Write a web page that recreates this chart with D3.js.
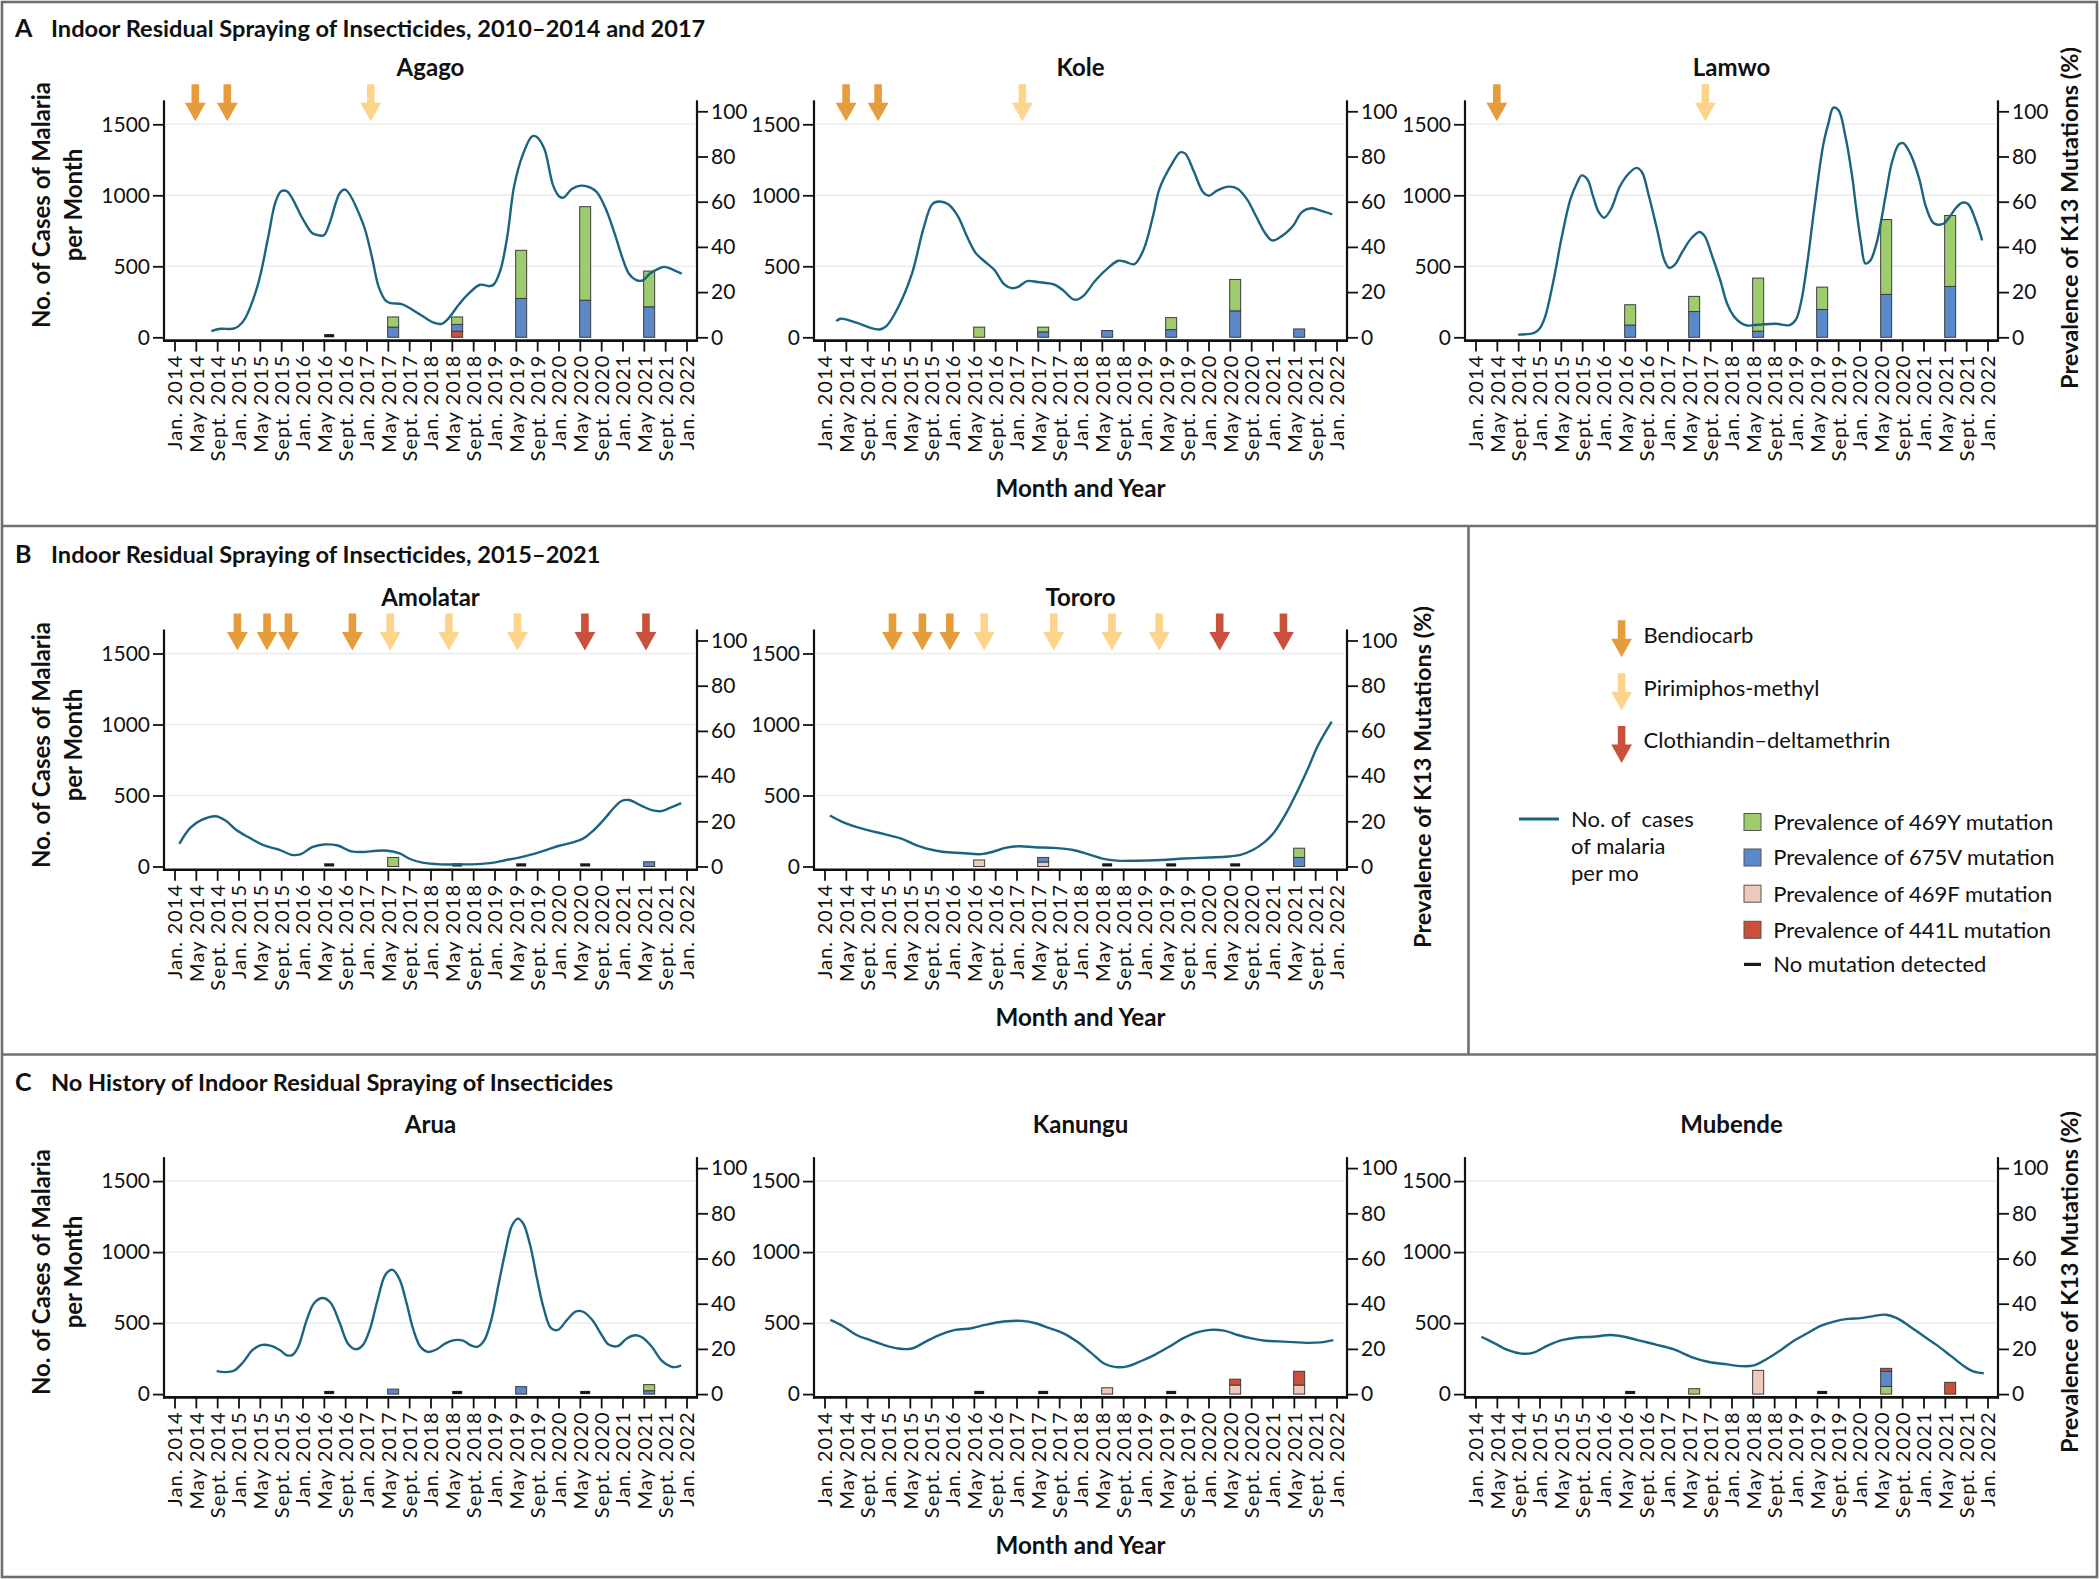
<!DOCTYPE html>
<html><head><meta charset="utf-8">
<script src="https://cdn.jsdelivr.net/npm/d3@7"></script>
<style>
body{margin:0;background:#fff}
svg{display:block}
text{font-family:Lato,"Open Sans",sans-serif;fill:#111}
</style>
</head><body>
<svg id="c" width="2100" height="1579"></svg>
<script>
// ---------- tick labels ----------
const tickMonths = [0,4,8,12,16,20,24,28,32,36,40,44,48,52,56,60,64,68,72,76,80,84,88,92,96];
const tickLabels = ["Jan. 2014","May 2014","Sept. 2014","Jan. 2015","May 2015","Sept. 2015","Jan. 2016","May 2016","Sept. 2016",
  "Jan. 2017","May 2017","Sept. 2017","Jan. 2018","May 2018","Sept. 2018","Jan. 2019","May 2019","Sept. 2019",
  "Jan. 2020","May 2020","Sept. 2020","Jan. 2021","May 2021","Sept. 2021","Jan. 2022"];
const caseTicks = [0,500,1000,1500];
const prevTicks = [0,20,40,60,80,100];

// ---------- monthly malaria cases: [months since Jan. 2014, cases] ----------
const agagoCases = [[6.9,43],[8.6,60],[11.2,62],[12.9,114],[15.5,353],[17.6,711],[18.9,949],[20,1028],[21.1,1028],[24.1,830],[25.8,735],[27.1,718],[28,718],[29.1,806],[31,1016],[32,1040],[35.3,806],[37,568],[38.3,353],[39.6,258],[40.5,241],[42.6,234],[43.9,210],[46.5,150],[48.6,103],[50.1,95],[51.2,126],[53.4,234],[55.1,305],[57.3,370],[59,360],[59.8,370],[61.1,472],[62.4,711],[63.7,1068],[65.4,1295],[67,1414],[67.8,1414],[69.3,1331],[71,1068],[72.2,990],[73,985],[74.5,1045],[76.2,1068],[77.9,1056],[79.2,1021],[80.9,902],[82.7,711],[83.9,568],[85.2,448],[86.5,405],[87.8,400],[89.1,448],[90.8,484],[91.9,496],[93.4,477],[95.1,448]];
const koleCases = [[2.2,114],[3,131],[6,103],[8.2,72],[10.3,55],[11.6,79],[13.8,210],[16.4,448],[18.5,758],[20.2,937],[21.5,956],[23.2,937],[25,854],[26.7,711],[28.4,591],[30.1,532],[31.9,472],[33.6,377],[35.1,346],[36.2,353],[38,396],[40,389],[43,372],[44.8,329],[46.5,270],[47.4,265],[48.6,293],[50.8,400],[53.4,496],[55.1,539],[56.4,532],[58.1,515],[59.8,615],[61.6,854],[62.8,1045],[65,1212],[66.7,1302],[67.6,1295],[69.3,1164],[71,1021],[72.1,997],[73.6,1033],[75.8,1061],[77.5,1045],[79.2,973],[80.9,854],[82.6,735],[83.9,682],[85.2,699],[87.8,782],[89.5,882],[91.3,909],[92.6,897],[95.2,866]];
const lamwoCases = [[8,19],[11,31],[12,60],[13,138],[14.5,377],[16.2,711],[17.8,973],[19.1,1092],[19.9,1140],[21,1111],[22,997],[23.1,882],[24.1,842],[25.4,902],[27,1057],[28.7,1152],[30.2,1193],[31.2,1164],[32.5,997],[34.2,735],[35.4,544],[36.3,489],[37.3,508],[38.8,603],[40.5,699],[42,742],[43,711],[44.2,591],[45.9,401],[47.2,234],[48.4,150],[49.7,103],[50.9,83],[52.2,86],[53.9,91],[56.4,95],[58.9,86],[60.1,126],[61.1,258],[62.2,520],[63.5,902],[65.2,1355],[66.2,1510],[67.1,1617],[68.1,1598],[69.3,1426],[70.6,1140],[71.4,902],[72.3,663],[73.1,520],[74,539],[75.2,663],[76.9,997],[78.1,1235],[79.4,1360],[80.2,1367],[81.5,1295],[83.2,1116],[84.4,925],[85.7,811],[86.5,794],[87.8,801],[89,854],[90.3,921],[91.4,949],[92.4,937],[93.6,842],[95,682]];
const amolatarCases = [[0.9,160],[3,274],[5.2,330],[7.7,354],[9.5,325],[11.6,257],[13.8,208],[16.8,148],[19.8,116],[21.95,82],[23.7,87],[25.8,136],[28,155],[30.6,148],[33.1,107],[35.3,102],[37.9,111],[40,111],[42.2,92],[44.3,51],[46.5,27],[49.9,15],[53.4,15],[56.8,17],[59.8,27],[62,44],[64.6,63],[67.2,87],[69.7,116],[72.3,148],[74.9,172],[76.6,196],[78.3,245],[80.5,330],[82.7,426],[83.9,463],[85.2,468],[87.4,431],[89.5,397],[91.3,390],[93,414],[95,446]];
const tororoCases = [[1,359],[3.9,305],[7.5,262],[11.2,228],[14.4,196],[16.6,160],[19.4,124],[22.1,104],[25.7,95],[29.4,87],[31.6,104],[33.9,131],[36.6,143],[39.4,136],[43,131],[46.6,116],[49.4,87],[52.1,56],[54.8,41],[58.5,41],[63,46],[67.5,56],[72.1,63],[75.7,70],[78,82],[80.3,116],[82.5,172],[84.4,245],[86.6,378],[88.9,548],[90.7,693],[92.5,850],[95.1,1020]];
const aruaCases = [[7.9,162],[9.5,155],[11.2,166],[12.9,226],[14.6,309],[16.2,345],[18.1,340],[19.8,309],[21.1,273],[22.2,278],[23.2,333],[24.8,523],[26.2,642],[27.8,677],[29.3,642],[31,499],[32.5,357],[34,316],[35.3,345],[36.6,452],[38.1,666],[39.6,844],[40.9,875],[42.2,808],[43.5,642],[44.8,452],[46.1,333],[47.5,297],[49.1,314],[50.8,357],[52.5,380],[54.1,376],[55.5,345],[56.8,333],[58.1,380],[59.4,523],[60.7,761],[62,998],[63.3,1189],[64.4,1236],[65.4,1200],[66.7,1046],[68,808],[69.3,594],[70.6,464],[71.9,452],[73.6,523],[75.3,582],[76.6,580],[78.3,523],[80.1,416],[81.4,349],[83.1,338],[84.8,392],[86.5,414],[87.8,397],[89.5,333],[91.3,238],[93,195],[94,190],[95,202]];
const kanunguCases = [[1.1,523],[3.4,480],[6,416],[8.6,380],[11.2,345],[13.8,321],[16.4,321],[18.9,368],[21.5,416],[24.5,452],[27.6,464],[30.1,487],[33.6,511],[37,516],[39.6,499],[42.2,464],[44.8,428],[47.4,368],[50,290],[52.5,214],[54.7,190],[56.8,195],[59.4,233],[62,278],[64.6,333],[67.2,392],[69.7,433],[72.3,452],[74.9,447],[77.5,416],[80.1,392],[82.7,376],[85.2,371],[87.8,366],[90.4,361],[93,364],[95.4,380]];
const mubendeCases = [[1.1,404],[3.6,357],[6.1,309],[8.6,285],[10.7,290],[13.7,345],[16.2,380],[19.1,399],[22,404],[25.4,416],[27.9,404],[30.4,380],[33.8,349],[37.1,316],[40.5,261],[43.8,226],[47.2,209],[49.7,197],[52.2,202],[54.7,249],[57.2,309],[59.7,376],[62.2,428],[64.7,480],[67.2,511],[69.8,530],[72.3,535],[74.8,551],[76.9,559],[79,535],[81.5,475],[84,409],[86.5,345],[89,273],[91.4,202],[93.2,162],[95.3,147]];

// ---------- K13 mutation prevalence (%), stacked bottom to top; empty = no mutation detected ----------
const agagoK13 = [
  {m:29, segs:[]},
  {m:41, segs:[["675V",4.5],["469Y",4.5]]},
  {m:53, segs:[["441L",2.7],["675V",3.0],["469Y",3.3]]},
  {m:65, segs:[["675V",17.2],["469Y",21.3]]},
  {m:77, segs:[["675V",16.4],["469Y",41.4]]},
  {m:89, segs:[["675V",13.5],["469Y",15.8]]}];
const koleK13 = [
  {m:29, segs:[["469Y",4.5]]},
  {m:41, segs:[["675V",2.4],["469Y",2.1]]},
  {m:53, segs:[["675V",3.0]]},
  {m:65, segs:[["675V",3.4],["469Y",5.3]]},
  {m:77, segs:[["675V",11.7],["469Y",13.9]]},
  {m:89, segs:[["675V",3.7]]}];
const lamwoK13 = [
  {m:29, segs:[["675V",5.4],["469Y",9.0]]},
  {m:41, segs:[["675V",11.4],["469Y",6.7]]},
  {m:53, segs:[["675V",2.7],["469Y",23.5]]},
  {m:65, segs:[["675V",12.3],["469Y",9.9]]},
  {m:77, segs:[["675V",19.0],["469Y",33.1]]},
  {m:89, segs:[["675V",22.5],["469Y",31.4]]}];
const amolatarK13 = [
  {m:29, segs:[]},
  {m:41, segs:[["469Y",4.0]]},
  {m:53, segs:[]},
  {m:65, segs:[]},
  {m:77, segs:[]},
  {m:89, segs:[["675V",2.1]]}];
const tororoK13 = [
  {m:29, segs:[["469F",2.9]]},
  {m:41, segs:[["469F",2.0],["675V",2.0]]},
  {m:53, segs:[]},
  {m:65, segs:[]},
  {m:77, segs:[]},
  {m:89, segs:[["675V",4.0],["469Y",4.1]]}];
const aruaK13 = [
  {m:29, segs:[]},
  {m:41, segs:[["675V",2.2]]},
  {m:53, segs:[]},
  {m:65, segs:[["675V",3.3]]},
  {m:77, segs:[]},
  {m:89, segs:[["675V",1.5],["469Y",2.7]]}];
const kanunguK13 = [
  {m:29, segs:[]},
  {m:41, segs:[]},
  {m:53, segs:[["469F",2.8]]},
  {m:65, segs:[]},
  {m:77, segs:[["469F",4.0],["441L",2.6]]},
  {m:89, segs:[["469F",4.0],["441L",6.1]]}];
const mubendeK13 = [
  {m:29, segs:[]},
  {m:41, segs:[["469Y",2.4]]},
  {m:53, segs:[["469F",10.5]]},
  {m:65, segs:[]},
  {m:77, segs:[["469Y",3.4],["675V",6.7],["441L",1.3]]},
  {m:89, segs:[["441L",5.2]]}];

// ---------- indoor residual spraying rounds: [month, insecticide] ----------
const agagoIRS = [[3.9,"B"],[9.9,"B"],[36.8,"P"]];
const koleIRS = [[4.05,"B"],[10.05,"B"],[37.1,"P"]];
const lamwoIRS = [[4.0,"B"],[43.1,"P"]];
const amolatarIRS = [[11.8,"B"],[17.35,"B"],[21.35,"B"],[33.35,"B"],[40.45,"P"],[51.45,"P"],[64.3,"P"],[76.95,"C"],[88.4,"C"]];
const tororoIRS = [[12.75,"B"],[18.35,"B"],[23.5,"B"],[29.95,"P"],[43,"P"],[53.9,"P"],[62.75,"P"],[74.1,"C"],[86.05,"C"]];
const aruaIRS = [], kanunguIRS = [], mubendeIRS = [];

// ---------- styles ----------
const mutColor = {"469Y":"#9dcb6d","675V":"#5b88c9","469F":"#efc9b9","441L":"#c9503a"};
const arrowColor = {"B":"#e59c3b","P":"#fdd48b","C":"#c9503a"};
const lineColor = "#1b6480";

const svg = d3.select("#c");

// frame
const frame = svg.append("g").attr("fill","none").attr("stroke","#6f6f6f").attr("stroke-width",2.6);
frame.append("rect").attr("x",2).attr("y",2).attr("width",2095).attr("height",1575);
frame.append("line").attr("x1",2).attr("x2",2097).attr("y1",526).attr("y2",526);
frame.append("line").attr("x1",2).attr("x2",2097).attr("y1",1054.5).attr("y2",1054.5);
frame.append("line").attr("x1",1468.5).attr("x2",1468.5).attr("y1",526).attr("y2",1054.5);

// section titles
const sections = [
  {letter:"A", text:"Indoor Residual Spraying of Insecticides, 2010–2014 and 2017", y:36.5},
  {letter:"B", text:"Indoor Residual Spraying of Insecticides, 2015–2021", y:563},
  {letter:"C", text:"No History of Indoor Residual Spraying of Insecticides", y:1091}];
sections.forEach(s=>{
  svg.append("text").attr("x",15).attr("y",s.y).attr("font-size",25).attr("font-weight",700).text(s.letter);
  svg.append("text").attr("x",51).attr("y",s.y).attr("font-size",23.6).attr("font-weight",700).text(s.text);
});

const COLS = [164, 814, 1465];
const PW = 533;
const ROWS = [337.3, 866.5, 1394.1];

const panels = [
  {name:"Agago", r:0, c:0, cases:agagoCases, k13:agagoK13, irs:agagoIRS, leftTitle:205},
  {name:"Kole", r:0, c:1, cases:koleCases, k13:koleK13, irs:koleIRS, month:true},
  {name:"Lamwo", r:0, c:2, cases:lamwoCases, k13:lamwoK13, irs:lamwoIRS, prevTitle:{dx:80, y:218}},
  {name:"Amolatar", r:1, c:0, cases:amolatarCases, k13:amolatarK13, irs:amolatarIRS, leftTitle:745},
  {name:"Tororo", r:1, c:1, cases:tororoCases, k13:tororoK13, irs:tororoIRS, month:true, prevTitle:{dx:84, y:777}},
  {name:"Arua", r:2, c:0, cases:aruaCases, k13:aruaK13, irs:aruaIRS, leftTitle:1272},
  {name:"Kanungu", r:2, c:1, cases:kanunguCases, k13:kanunguK13, irs:kanunguIRS, month:true},
  {name:"Mubende", r:2, c:2, cases:mubendeCases, k13:mubendeK13, irs:mubendeIRS, prevTitle:{dx:80, y:1282}}];

function arrowPath(cx, top){
  return `M${cx-3.8},${top}L${cx+3.8},${top}L${cx+3.8},${top+18.5}L${cx+10.4},${top+18.5}L${cx},${top+37}L${cx-10.4},${top+18.5}L${cx-3.8},${top+18.5}Z`;
}

panels.forEach(p=>{
  const left = COLS[p.c], right = left + PW, y0 = ROWS[p.r];
  const x = d3.scaleLinear().domain([0,96]).range([left+10.5, left+522.5]);
  const yL = d3.scaleLinear().domain([0,1500]).range([y0, y0-213]);
  const yR = d3.scaleLinear().domain([0,100]).range([y0, y0-226]);
  const g = svg.append("g");

  // gridlines
  g.selectAll("line.grid").data([500,1000,1500]).join("line").attr("class","grid")
    .attr("x1",left+2).attr("x2",right-2).attr("y1",d=>yL(d)).attr("y2",d=>yL(d))
    .attr("stroke","#ebebeb").attr("stroke-width",1.5);

  // title
  g.append("text").attr("x",(left+right)/2).attr("y",y0-261).attr("text-anchor","middle")
    .attr("font-size",24).attr("font-weight",700).text(p.name);

  // IRS arrows
  g.selectAll("path.arrow").data(p.irs).join("path").attr("class","arrow")
    .attr("d",d=>arrowPath(x(d[0]), y0-253)).attr("fill",d=>arrowColor[d[1]]);

  // bars
  p.k13.forEach(s=>{
    if(s.segs.length===0){
      g.append("rect").attr("x",x(s.m)-5).attr("y",y0-3.2).attr("width",10).attr("height",3.2).attr("fill","#1a1a1a");
      return;
    }
    let cum = 0;
    s.segs.forEach(([k,v])=>{
      g.append("rect").attr("x",x(s.m)-5.5).attr("width",11)
        .attr("y",yR(cum+v)).attr("height",yR(cum)-yR(cum+v))
        .attr("fill",mutColor[k]).attr("stroke","#3d3d3d").attr("stroke-width",1);
      cum += v;
    });
  });

  // cases line
  g.append("path").datum(p.cases)
    .attr("d", d3.line().x(d=>x(d[0])).y(d=>yL(d[1])).curve(d3.curveCatmullRom.alpha(0.5)))
    .attr("fill","none").attr("stroke",lineColor).attr("stroke-width",2.4);

  // left axis
  const ax = g.append("g").attr("transform",`translate(${left},0)`)
    .call(d3.axisLeft(yL).tickValues(caseTicks).tickFormat(d3.format("d")).tickSize(11).tickPadding(3));
  ax.select(".domain").remove();
  ax.selectAll(".tick line").attr("stroke","#111").attr("stroke-width",1.8);
  ax.selectAll(".tick text").attr("font-size",21).attr("font-family","Lato").attr("fill","#111");
  g.append("line").attr("x1",left).attr("x2",left).attr("y1",y0-237).attr("y2",y0+4.5).attr("stroke","#111").attr("stroke-width",2.2);

  // right axis
  const ar = g.append("g").attr("transform",`translate(${right},0)`)
    .call(d3.axisRight(yR).tickValues(prevTicks).tickFormat(d3.format("d")).tickSize(11).tickPadding(3));
  ar.select(".domain").remove();
  ar.selectAll(".tick line").attr("stroke","#111").attr("stroke-width",1.8);
  ar.selectAll(".tick text").attr("font-size",21).attr("font-family","Lato").attr("fill","#111");
  g.append("line").attr("x1",right).attr("x2",right).attr("y1",y0-237).attr("y2",y0+4.5).attr("stroke","#111").attr("stroke-width",2.2);

  // bottom axis
  const ab = g.append("g").attr("transform",`translate(0,${y0+3.3})`)
    .call(d3.axisBottom(x).tickValues(tickMonths).tickFormat((d,i)=>tickLabels[i]).tickSize(11).tickSizeOuter(0));
  ab.select(".domain").remove();
  ab.selectAll(".tick line").attr("stroke","#111").attr("stroke-width",1.8);
  ab.selectAll(".tick text").attr("font-size",20).attr("font-family","Lato").attr("fill","#111")
    .attr("letter-spacing","1.1px")
    .attr("text-anchor","end").attr("transform","rotate(-90)")
    .attr("x",-14).attr("y",0).attr("dy","0.36em");
  g.append("line").attr("x1",left-1).attr("x2",right+1).attr("y1",y0+3.3).attr("y2",y0+3.3).attr("stroke","#111").attr("stroke-width",2.6);

  // left axis title
  if(p.leftTitle){
    const t = g.append("text").attr("transform",`translate(0,${p.leftTitle}) rotate(-90)`)
      .attr("text-anchor","middle").attr("font-size",24).attr("font-weight",700);
    t.append("tspan").attr("x",0).attr("y",50).text("No. of Cases of Malaria");
    t.append("tspan").attr("x",0).attr("y",82).text("per Month");
  }
  // right axis title
  if(p.prevTitle){
    g.append("text").attr("transform",`translate(${right+p.prevTitle.dx},${p.prevTitle.y}) rotate(-90)`)
      .attr("text-anchor","middle").attr("font-size",23.5).attr("font-weight",700)
      .text("Prevalence of K13 Mutations (%)");
  }
  // x axis title
  if(p.month){
    g.append("text").attr("x",(left+right)/2).attr("y",y0+159.5).attr("text-anchor","middle")
      .attr("font-size",24.2).attr("font-weight",700).text("Month and Year");
  }
});

// ---------- legend ----------
const legArrows = [["B","Bendiocarb",634.7],["P","Pirimiphos-methyl",687.7],["C","Clothiandin–deltamethrin",740.4]];
const lg = svg.append("g");
legArrows.forEach(([k,label,cy])=>{
  lg.append("path").attr("d",arrowPath(1621.6, cy-14.5)).attr("fill",arrowColor[k]);
  lg.append("text").attr("x",1643.5).attr("y",cy).attr("dy","0.36em").attr("font-size",22).text(label);
});
lg.append("line").attr("x1",1519).attr("x2",1559).attr("y1",819).attr("y2",819).attr("stroke",lineColor).attr("stroke-width",3);
["No. of  cases","of malaria","per mo"].forEach((t,i)=>{
  lg.append("text").attr("x",1571).attr("y",819+i*27).attr("dy","0.36em").attr("font-size",22)
    .style("white-space","pre").text(t);
});
const legMut = [["469Y","Prevalence of 469Y mutation",822],["675V","Prevalence of 675V mutation",857.5],
  ["469F","Prevalence of 469F mutation",893.7],["441L","Prevalence of 441L mutation",929.8]];
legMut.forEach(([k,label,cy])=>{
  lg.append("rect").attr("x",1744).attr("y",cy-8.5).attr("width",17).attr("height",17)
    .attr("fill",mutColor[k]).attr("stroke","#555").attr("stroke-width",1);
  lg.append("text").attr("x",1773.3).attr("y",cy).attr("dy","0.36em").attr("font-size",22).text(label);
});
lg.append("rect").attr("x",1744).attr("y",962.8).attr("width",17).attr("height",3.2).attr("fill","#1a1a1a");
lg.append("text").attr("x",1773.3).attr("y",964.3).attr("dy","0.36em").attr("font-size",22).text("No mutation detected");
</script>
</body></html>
